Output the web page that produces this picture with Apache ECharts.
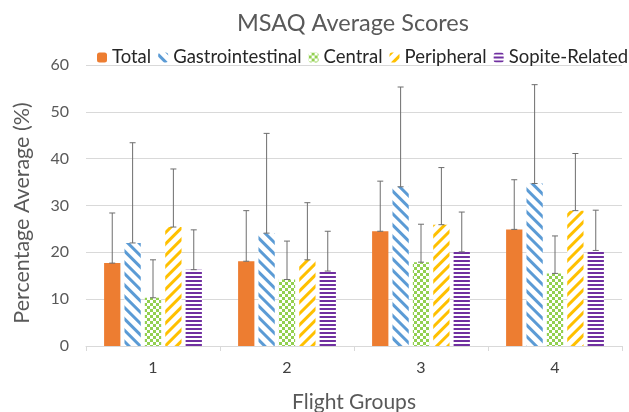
<!DOCTYPE html>
<html><head><meta charset="utf-8">
<script src="https://cdn.jsdelivr.net/npm/echarts@6/dist/echarts.min.js"></script>
<style>html,body{margin:0;padding:0;background:#fff}#c{width:629px;height:412px}</style>
</head><body><div id="c"></div>
<script>
const categories = ['1', '2', '3', '4'];
const seriesNames = ['Total', 'Gastrointestinal', 'Central', 'Peripheral', 'Sopite-Related'];
const total = [17.7, 18.1, 24.5, 24.9];
const gastro = [22.0, 24.1, 34.0, 34.7];
const central = [10.3, 14.2, 17.9, 15.5];
const peripheral = [25.4, 18.4, 25.9, 28.9];
const sopite = [16.3, 16.0, 20.1, 20.4];
const totalUpper = [28.4, 28.9, 35.2, 35.5];
const gastroUpper = [43.4, 45.4, 55.3, 55.8];
const centralUpper = [18.4, 22.4, 26.0, 23.5];
const peripheralUpper = [37.8, 30.6, 38.1, 41.1];
const sopiteUpper = [24.8, 24.5, 28.6, 29.0];
const yTicks = [0, 10, 20, 30, 40, 50, 60];
const yAxisTitle = 'Percentage Average (%)';

const means = [total, gastro, central, peripheral, sopite];
const uppers = [totalUpper, gastroUpper, centralUpper, peripheralUpper, sopiteUpper];
const colors = ['#ED7D31', '#5B9BD5', '#92D050', '#FFC000', '#7030A0'];
const decals = [
  null,
  { color: colors[1], dashArrayX: [1, 0], dashArrayY: [2.2, 4.8], rotation: Math.PI / 4 },
  { color: colors[2], dashArrayX: [[3, 3], [0, 3, 3, 0]], dashArrayY: [3, 0], rotation: 0 },
  { color: colors[3], dashArrayX: [1, 0], dashArrayY: [2.2, 4.8], rotation: -Math.PI / 4 },
  { color: colors[4], dashArrayX: [1, 0], dashArrayY: [2, 2], rotation: 0 }
];
const CAT_GAP = 0.27, BAR_GAP = 0.25;

const barSeries = seriesNames.map((name, i) => {
  const s = {
    name, type: 'bar', data: means[i],
    barGap: '25%', barCategoryGap: '27%',
    itemStyle: { color: i === 0 ? colors[0] : '#ffffff' },
    emphasis: { disabled: true }
  };
  if (decals[i]) s.itemStyle.decal = decals[i];
  return s;
});

const errData = [];
for (let i = 0; i < seriesNames.length; i++) {
  for (let c = 0; c < categories.length; c++) {
    errData.push([c, i, means[i][c], uppers[i][c]]);
  }
}

const errSeries = {
  type: 'custom', name: 'err', data: errData, z: 10, silent: true,
  encode: { x: 0, y: 3 },
  renderItem: function (params, api) {
    const c = api.value(0), i = api.value(1);
    const W = api.size([1, 0])[0];
    const usable = W * (1 - CAT_GAP);
    const n = seriesNames.length;
    const w = usable / (n + (n - 1) * BAR_GAP);
    const center = api.coord([c, 0])[0];
    const x = center - usable / 2 + i * w * (1 + BAR_GAP) + w / 2;
    const y0 = api.coord([c, api.value(2)])[1];
    const y1 = api.coord([c, api.value(3)])[1];
    const st = { stroke: '#6e6e6e', lineWidth: 1 };
    const h = 3;
    return { type: 'group', children: [
      { type: 'line', shape: { x1: x, y1: y0, x2: x, y2: y1 }, style: st },
      { type: 'line', shape: { x1: x - h, y1: y1, x2: x + h, y2: y1 }, style: st },
      { type: 'line', shape: { x1: x - h, y1: y0, x2: x + h, y2: y0 }, style: st }
    ]};
  }
};

const chart = echarts.init(document.getElementById('c'), null, { renderer: 'canvas' });
chart.setOption({
  animation: false,
  textStyle: { fontFamily: 'Lato' },
  title: {
    text: 'MSAQ Average Scores', left: 232, top: 6,
    textStyle: { fontFamily: 'Lato', fontSize: 23.5, fontWeight: 'normal', color: '#595959' }
  },
  legend: {
    data: seriesNames, left: 97, top: 48, width: 560, padding: 0,
    itemWidth: 10, itemHeight: 10, itemGap: 7,
    textStyle: { fontFamily: 'Lato', fontSize: 18.5, color: '#262626' }
  },
  graphic: [{
    type: 'text', x: 22, y: 213, rotation: Math.PI / 2, silent: true,
    style: { text: yAxisTitle, fontFamily: 'Lato', fontSize: 21.5, fill: '#595959',
      textAlign: 'center', textVerticalAlign: 'middle' }
  }],
  grid: { left: 86, right: 7, top: 65, bottom: 66, outerBoundsMode: 'none', containLabel: false },
  xAxis: {
    type: 'category', data: categories,
    name: 'Flight Groups', nameLocation: 'middle', nameGap: 46,
    nameTextStyle: { fontFamily: 'Lato', fontSize: 21, color: '#595959' },
    axisLine: { lineStyle: { color: '#d9d9d9' } },
    axisTick: { show: true, length: 5, lineStyle: { color: '#d9d9d9' } },
    axisLabel: { fontFamily: 'Lato', fontSize: 16, color: '#404040', margin: 14 }
  },
  yAxis: {
    type: 'value', min: yTicks[0], max: yTicks[yTicks.length - 1], interval: yTicks[1] - yTicks[0],
    axisLine: { show: false }, axisTick: { show: false },
    axisLabel: { fontFamily: 'Lato', fontSize: 16, color: '#595959', margin: 17 },
    splitLine: { lineStyle: { color: '#d9d9d9' } }
  },
  series: barSeries.concat([errSeries])
});
</script></body></html>
